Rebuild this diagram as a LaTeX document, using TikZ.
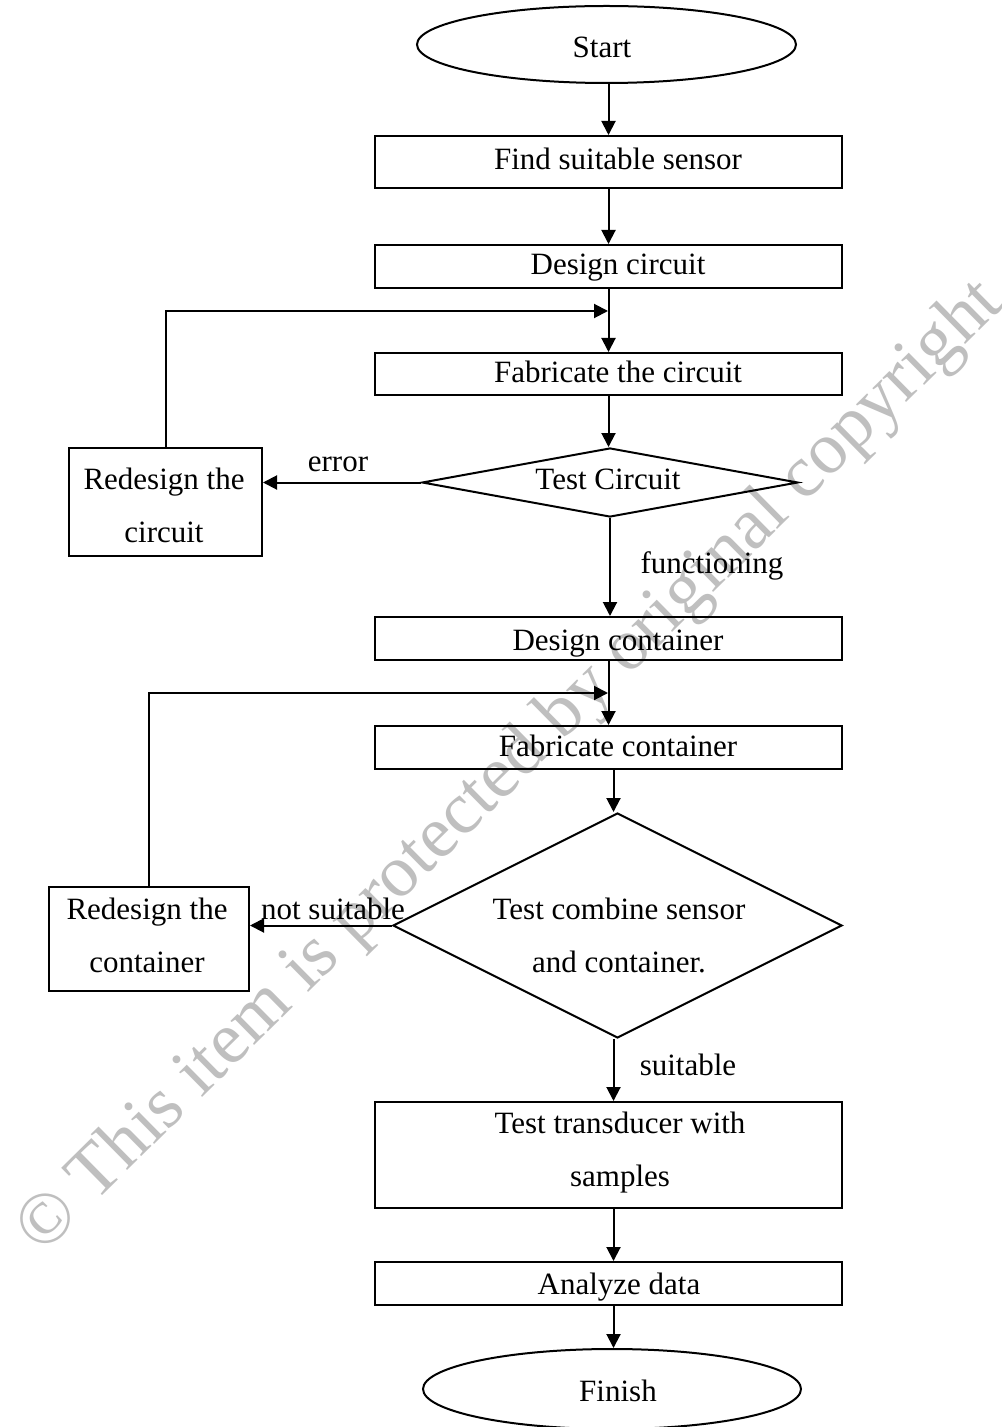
\documentclass[tikz,border=0pt]{standalone}
\usepackage{fontspec}
\setmainfont{Liberation Serif}
\usetikzlibrary{shapes.geometric,arrows.meta}
\begin{document}
\begin{tikzpicture}[x=0.5pt,y=-0.5pt,
  box/.style={draw,line width=1pt,rectangle,inner sep=0pt,minimum width=233.5pt},
  term/.style={draw,line width=1pt,ellipse,inner sep=0pt},
  dec/.style={draw,line width=1pt,diamond,inner sep=0pt},
  txt/.style={font=\fontsize{15.5}{26.5}\selectfont,align=center,inner sep=0pt,text height=10pt,text depth=0pt},
  arr/.style={line width=1pt,-{Triangle[length=7pt,width=7pt]}},
  wmark/.style={text=black!25,font=\fontsize{36.75}{36.75}\selectfont,inner sep=0pt}]
\useasboundingbox (0,0) rectangle (1001,1427);
\fill[white] (0,0) rectangle (1001,1427);

% watermark
\node[wmark,rotate=44.6] (wm) at (511,768) {© This item is protected by original copyright};

% shapes
\node[term,minimum width=189.5pt,minimum height=38.5pt] (start) at (606.5,44.5) {};
\node[box,minimum height=26pt] (find) at (608.5,162) {};
\node[box,minimum height=21.5pt] (dcir) at (608.5,266.5) {};
\node[box,minimum height=21pt] (fcir) at (608.5,374) {};
\node[dec,minimum width=188pt,minimum height=34.5pt] (tcir) at (610,482.5) {};
\node[draw,line width=1pt,inner sep=0pt,minimum width=96.5pt,minimum height=54pt] (rcir) at (165.5,502) {};
\node[box,minimum height=21.5pt] (dcon) at (608.5,638.5) {};
\node[box,minimum height=21.5pt] (fcon) at (608.5,747.5) {};
\node[dec,minimum width=224.5pt,minimum height=112.5pt] (tcom) at (617.5,925.5) {};
\node[draw,line width=1pt,inner sep=0pt,minimum width=100pt,minimum height=52pt] (rcon) at (149,939) {};
\node[box,minimum height=53pt] (ttra) at (608.5,1155) {};
\node[box,minimum height=21.5pt] (anal) at (608.5,1283.5) {};
\node[term,minimum width=189pt,minimum height=40pt] (finish) at (612,1389) {};

% texts
\node[txt] (start-t) at (602,48) {Start};
\node[txt] (find-t) at (618,160) {Find suitable sensor};
\node[txt] (dcir-t) at (618,265) {Design circuit};
\node[txt] (fcir-t) at (618,373) {Fabricate the circuit};
\node[txt] (tcir-t) at (608,479) {Test Circuit};
\node[txt] (rcir-t) at (164,532) {Redesign the\\circuit};
\node[txt] (err) at (338,461) {error};
\node[txt] (func) at (712,563) {functioning};
\node[txt] (dcon-t) at (618,640) {Design container};
\node[txt] (fcon-t) at (618,746) {Fabricate container};
\node[txt] (tcom-t) at (619,962.5) {Test combine sensor\\and container.};
\node[txt] (nsuit) at (333,909) {not suitable};
\node[txt] (rcon-t) at (147,962.5) {Redesign the\\container};
\node[txt] (suit) at (688,1065) {suitable};
\node[txt] (ttra-t) at (620,1176.5) {Test transducer with\\samples};
\node[txt] (anal-t) at (619,1284) {Analyze data};
\node[txt] (finish-t) at (618,1391) {Finish};

% helper coordinates
\coordinate (j1) at (608,311);
\coordinate (j2) at (608,693);
\coordinate (lx) at (613.5,0);

% connectors
\draw[arr] (start.south -| find.north) -- (find.north);
\draw[arr] (find.south) -- (dcir.north);
\draw[arr] (dcir.south) -- (fcir.north);
\draw[arr] (rcir.north) |- (j1);
\draw[arr] (fcir.south) -- (fcir.south |- tcir.north);
\draw[arr] (tcir.west) -- (tcir.west -| rcir.east);
\draw[arr] (tcir.south) -- (tcir.south |- dcon.north);
\draw[arr] (dcon.south) -- (fcon.north);
\draw[arr] (rcon.north) |- (j2);
\draw[arr] (fcon.south -| lx) -- (tcom.north -| lx);
\draw[arr] (tcom.west) -- (tcom.west -| rcon.east);
\draw[arr] (tcom.south -| lx) -- (ttra.north -| lx);
\draw[arr] (ttra.south -| lx) -- (anal.north -| lx);
\draw[arr] (anal.south -| lx) -- (finish.north -| lx);
\end{tikzpicture}
\end{document}
